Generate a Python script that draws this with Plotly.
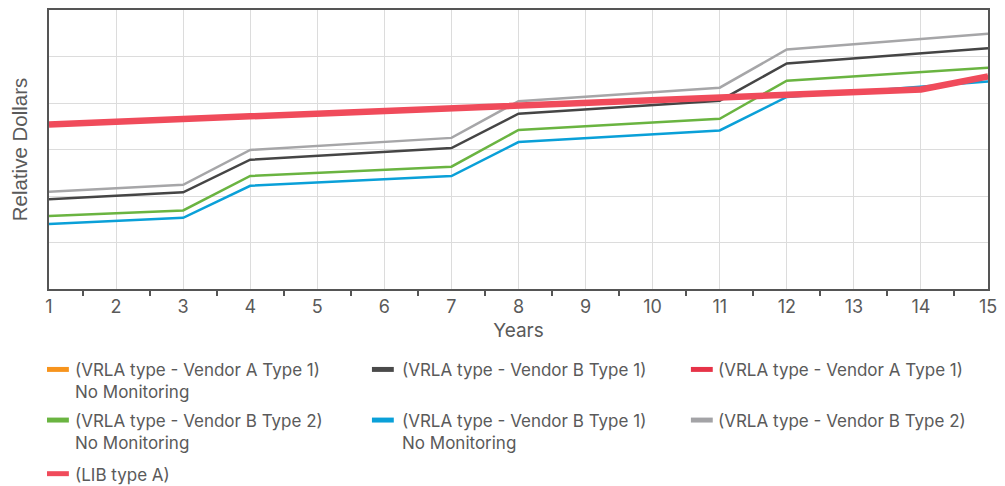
import plotly.graph_objects as go

years = list(range(1, 16))

vrla_b2_mon = [2.09, 2.17, 2.24, 2.99, 3.08, 3.16, 3.25, 4.04, 4.14, 4.23, 4.33, 5.15, 5.26, 5.37, 5.49]
vrla_b1_mon = [1.93, 2.00, 2.08, 2.78, 2.86, 2.94, 3.03, 3.77, 3.86, 3.95, 4.05, 4.85, 4.96, 5.07, 5.18]
vrla_b2_nomon = [1.57, 1.63, 1.69, 2.43, 2.50, 2.56, 2.63, 3.42, 3.50, 3.58, 3.66, 4.48, 4.57, 4.67, 4.76]
vrla_b1_nomon = [1.40, 1.46, 1.53, 2.22, 2.29, 2.36, 2.43, 3.16, 3.24, 3.33, 3.41, 4.13, 4.24, 4.35, 4.46]
lib_a = [3.54, 3.60, 3.66, 3.71, 3.77, 3.83, 3.89, 3.95, 4.00, 4.06, 4.12, 4.18, 4.23, 4.29, 4.57]
vrla_a1_nomon = lib_a
vrla_a1_mon = lib_a

legend_labels = [
    "(VRLA type - Vendor A Type 1)<br>No Monitoring",
    "(VRLA type - Vendor B Type 1)",
    "(VRLA type - Vendor A Type 1)",
    "(VRLA type - Vendor B Type 2)<br>No Monitoring",
    "(VRLA type - Vendor B Type 1)<br>No Monitoring",
    "(VRLA type - Vendor B Type 2)",
    "(LIB type A)",
]
legend_colors = ["#f7941d", "#4a4a4a", "#e63348", "#6ab441", "#0aa0d8", "#a3a3a6", "#f04b5b"]

series = [
    (vrla_a1_nomon, "#f7941d", 2.5),
    (vrla_a1_mon, "#e63348", 2.5),
    (vrla_b1_nomon, "#0aa0d8", 2.5),
    (vrla_b2_nomon, "#6ab441", 2.5),
    (vrla_b1_mon, "#454545", 2.5),
    (vrla_b2_mon, "#a6a6a8", 2.5),
    (lib_a, "#f04b5b", 6.5),
]

fig = go.Figure()
for vals, col, w in series:
    fig.add_trace(go.Scatter(x=years, y=vals, mode="lines",
                             line=dict(color=col, width=w),
                             showlegend=False, hoverinfo="skip"))

W, H = 1005, 486
ml, mr, mt, mb = 49, 11, 8, 197
pw, ph = W - ml - mr, H - mt - mb

def px2x(px):
    return (px - ml) / pw

def px2y(py):
    return (H - mb - py) / ph

col_sw = [47, 374, 695]
col_tx = [74, 403, 721]
row_y = [370, 421, 475]

TXT = "#5a5a5a"
shapes = []
annotations = []
for i, (lab, c) in enumerate(zip(legend_labels, legend_colors)):
    ci, ri = i % 3, i // 3
    yc = row_y[ri]
    shapes.append(dict(type="rect", xref="paper", yref="paper",
                       x0=px2x(col_sw[ci]), x1=px2x(col_sw[ci] + 22),
                       y0=px2y(yc + 2.5), y1=px2y(yc - 2.5),
                       fillcolor=c, line=dict(width=0)))
    annotations.append(dict(xref="paper", yref="paper", x=px2x(col_tx[ci]), y=px2y(yc - 10),
                            xanchor="left", yanchor="top", align="left", showarrow=False,
                            text=lab, font=dict(family="Inter", size=17, color=TXT),
                            borderpad=0))

fig.update_layout(
    width=W, height=H,
    margin=dict(l=ml, r=mr, t=mt, b=mb),
    paper_bgcolor="white", plot_bgcolor="white",
    font=dict(family="Inter", color=TXT),
    shapes=shapes, annotations=annotations,
    xaxis=dict(range=[1, 15], tickvals=years, ticks="", showgrid=True,
               gridcolor="#dcdcdc", gridwidth=1,
               showline=True, linecolor="#555555", linewidth=2, mirror=True,
               tickfont=dict(family="Inter", size=18, color=TXT),
               title=dict(text="Years", font=dict(family="Inter", size=19, color=TXT), standoff=8),
               minor=dict(ticks="outside", tick0=1.5, dtick=1, ticklen=5,
                          tickcolor="#555555", tickwidth=1.5, showgrid=False),
               zeroline=False),
    yaxis=dict(range=[0, 6], dtick=1, showticklabels=False, ticks="",
               showgrid=True, gridcolor="#dcdcdc", gridwidth=1,
               showline=True, linecolor="#555555", linewidth=2, mirror=True,
               title=dict(text="Relative Dollars", font=dict(family="Liberation Sans", size=20.5, color=TXT), standoff=14),
               zeroline=False),
)

fig.write_html("out.html", config={"displayModeBar": False},
               post_script="document.body.style.margin='0';")
